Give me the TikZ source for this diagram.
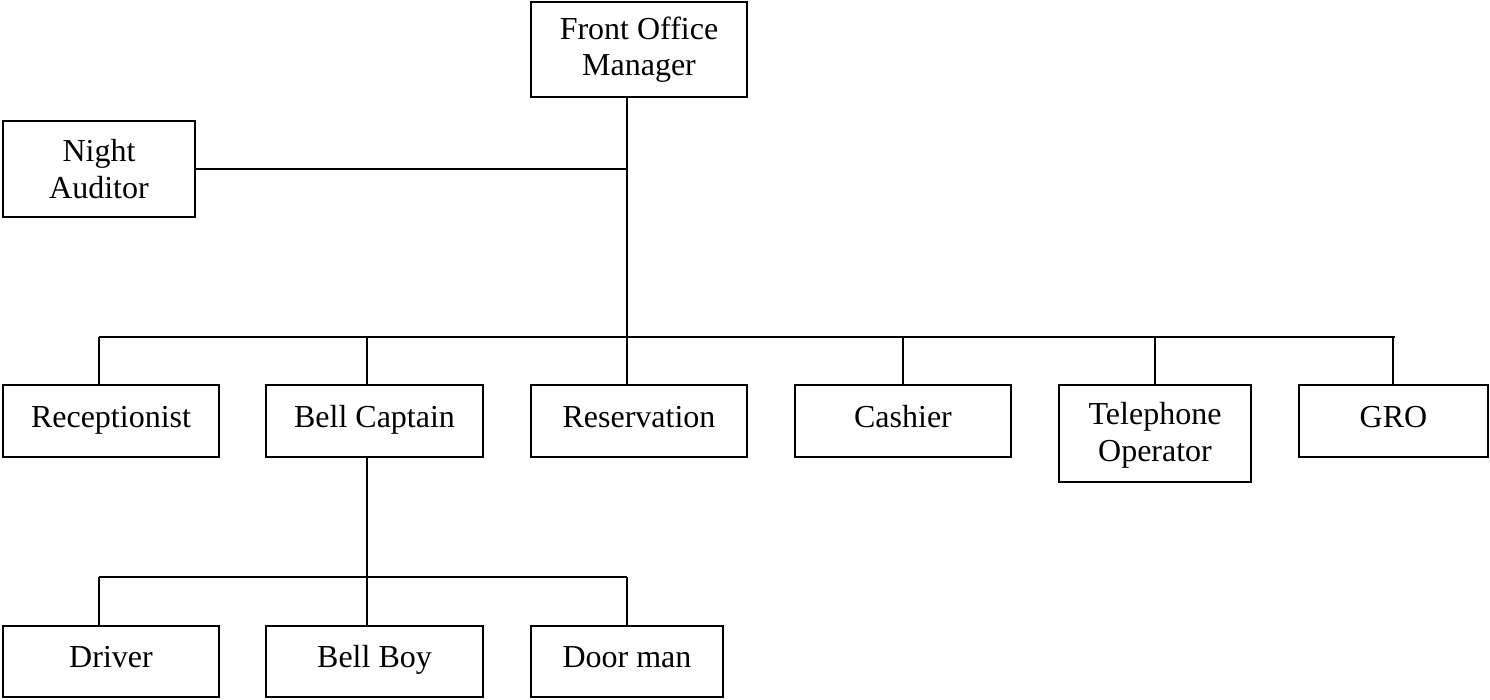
\documentclass[tikz,border=0pt]{standalone}
\usepackage{fontspec}
\setmainfont{Liberation Serif}
\begin{document}
\begin{tikzpicture}[x=1pt,y=-1pt,
  box/.style={draw,line width=1.5pt,inner sep=0pt,align=center,
    minimum width=216pt,minimum height=72pt,
    font=\fontsize{32}{36.5}\selectfont},
  one/.style={text height=21pt,text depth=9pt},
  conn/.style={line width=1.3pt}]
\useasboundingbox (0,0) rectangle (1490,699);
% boxes
\node[box,minimum height=95pt] (fom) at (639,49.5) {Front Office\\Manager};
\node[box,minimum width=192pt,minimum height=96pt] (na) at (99,169) {Night\\Auditor};
\node[box,one] (rec) at (111,421) {Receptionist};
\node[box,one,minimum width=217pt] (bc) at (374.5,421) {Bell Captain};
\node[box,one] (res) at (639,421) {Reservation};
\node[box,one] (cash) at (903,421) {Cashier};
\node[box,minimum width=192pt,minimum height=97pt] (tel) at (1155,433.5) {\rule{0pt}{26pt}Telephone\\Operator};
\node[box,one,minimum width=189pt] (gro) at (1393.5,421) {GRO};
\node[box,one,minimum height=71pt] (drv) at (111,661.5) {Driver};
\node[box,one,minimum width=217pt,minimum height=71pt] (boy) at (374.5,661.5) {Bell Boy};
\node[box,one,minimum width=192pt,minimum height=71pt] (door) at (627,661.5) {Door man};
% junctions
\coordinate (ja) at (627,169);
\coordinate (t1) at (99,337);
\coordinate (t2) at (367,337);
\coordinate (t3) at (627,337);
\coordinate (t4) at (903,337);
\coordinate (t5) at (1155,337);
\coordinate (t6) at (1393,337);
\coordinate (tend) at (1395,337);
\coordinate (u1) at (99,577);
\coordinate (u2) at (367,577);
\coordinate (u3) at (627,577);
% connectors
\draw[conn] (fom.south -| t3) -- (t3);
\draw[conn] (na.east) -- (ja);
\draw[conn] (t1) -- (tend);
\draw[conn] (t1) -- (t1 |- rec.north);
\draw[conn] (t2) -- (t2 |- bc.north);
\draw[conn] (t3) -- (t3 |- res.north);
\draw[conn] (t4) -- (cash.north);
\draw[conn] (t5) -- (tel.north);
\draw[conn] (t6) -- (t6 |- gro.north);
\draw[conn] (bc.south -| u2) -- (u2);
\draw[conn] (u1) -- (u3);
\draw[conn] (u1) -- (u1 |- drv.north);
\draw[conn] (u2) -- (u2 |- boy.north);
\draw[conn] (u3) -- (door.north);
\end{tikzpicture}
\end{document}
